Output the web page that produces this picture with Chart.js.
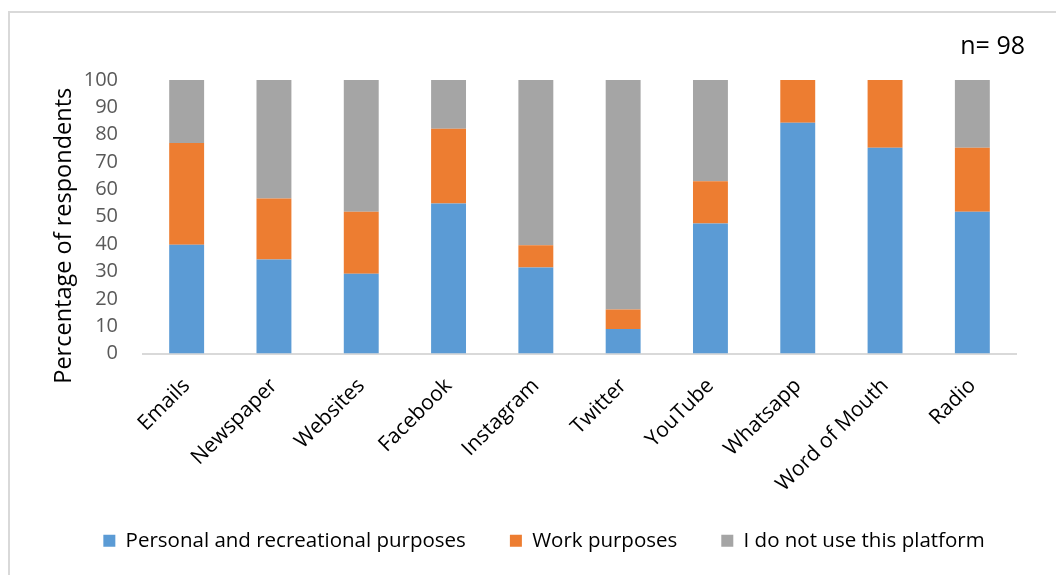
<!DOCTYPE html>
<html>
<head>
<meta charset="utf-8">
<script src="https://cdn.jsdelivr.net/npm/chart.js@4"></script>
<style>
  html, body { margin: 0; padding: 0; background: #fff; }
  #wrap { position: relative; width: 1056px; height: 575px; overflow: hidden; }
  #frame { position: absolute; left: 8px; top: 11px; width: 1100px; height: 600px;
           border-left: 2px solid #d9d9d9; border-top: 2px solid #d9d9d9; box-sizing: border-box; }
  #note { position: absolute; right: 31px; top: 27px; font: 25px "Open Sans", sans-serif; color: #000; line-height: 34px; }
  canvas { position: absolute; left: 0; top: 0; }
</style>
</head>
<body>
<div id="wrap">
  <div id="frame"></div>
  <canvas id="c" width="1056" height="575"></canvas>
  <div id="note">n= 98</div>
</div>
<script>
const categories = ['Emails', 'Newspaper', 'Websites', 'Facebook', 'Instagram', 'Twitter', 'YouTube', 'Whatsapp', 'Word of Mouth', 'Radio'];
const personal = [39.8, 34.4, 29.2, 54.8, 31.4, 9.0, 47.5, 84.4, 75.2, 51.8];
const work = [37.2, 22.3, 22.6, 27.4, 8.2, 7.1, 15.5, 15.6, 24.8, 23.4];
const notUsed = [23.0, 43.3, 48.2, 17.8, 60.4, 83.9, 37.0, 0, 0, 24.8];
const seriesNames = ['Personal and recreational purposes', 'Work purposes', 'I do not use this platform'];
const yTitle = 'Percentage of respondents';
const yTicks = [0, 10, 20, 30, 40, 50, 60, 70, 80, 90, 100];

const FONT = '"Open Sans", sans-serif';

const yTitlePlugin = {
  id: 'yTitle',
  afterLayout(chart) {
    const lg = chart.legend;
    if (lg) { lg.left += 36; lg.right += 36; }
  },
  afterDraw(chart) {
    const ctx = chart.ctx;
    const a = chart.chartArea;
    ctx.save();
    ctx.translate(64, (a.top + a.bottom) / 2 + 19);
    ctx.rotate(-Math.PI / 2);
    ctx.font = '23.5px ' + FONT;
    ctx.fillStyle = '#000';
    ctx.textAlign = 'center';
    ctx.textBaseline = 'middle';
    ctx.fillText(yTitle, 0, 0);
    ctx.restore();
  }
};

new Chart(document.getElementById('c'), {
  type: 'bar',
  data: {
    labels: categories,
    datasets: [
      { label: seriesNames[0], data: personal, backgroundColor: '#5B9BD5' },
      { label: seriesNames[1], data: work, backgroundColor: '#ED7D31' },
      { label: seriesNames[2], data: notUsed, backgroundColor: '#A5A5A5' }
    ]
  },
  plugins: [yTitlePlugin],
  options: {
    responsive: false,
    animation: false,
    devicePixelRatio: 1,
    layout: { padding: { left: 0, top: 80, right: 40, bottom: 14 } },
    datasets: { bar: { barPercentage: 0.4, categoryPercentage: 1.0, borderWidth: 0 } },
    plugins: {
      tooltip: { enabled: false },
      legend: {
        position: 'bottom',
        labels: {
          boxWidth: 12, boxHeight: 12, padding: 44,
          color: '#000', font: { family: FONT, size: 20.5 }
        }
      }
    },
    scales: {
      x: {
        stacked: true,
        grid: { display: false, drawTicks: false },
        border: { display: true, color: '#d9d9d9', width: 2 },
        ticks: { color: '#000', font: { family: FONT, size: 21 }, minRotation: 45, maxRotation: 45, padding: 20, autoSkip: false },
        afterFit: (s) => { s.height = 133; s._computeLabelArea = () => undefined; }
      },
      y: {
        stacked: true,
        min: 0, max: 100,
        afterBuildTicks: (s) => { s.ticks = yTicks.map(v => ({ value: v })); },
        grid: { display: false, drawTicks: false },
        border: { display: false },
        ticks: { color: '#595959', font: { family: FONT, size: 20 }, padding: 25, autoSkip: false },
        afterFit: (s) => { s.width = 143; }
      }
    }
  }
});
</script>
</body>
</html>
